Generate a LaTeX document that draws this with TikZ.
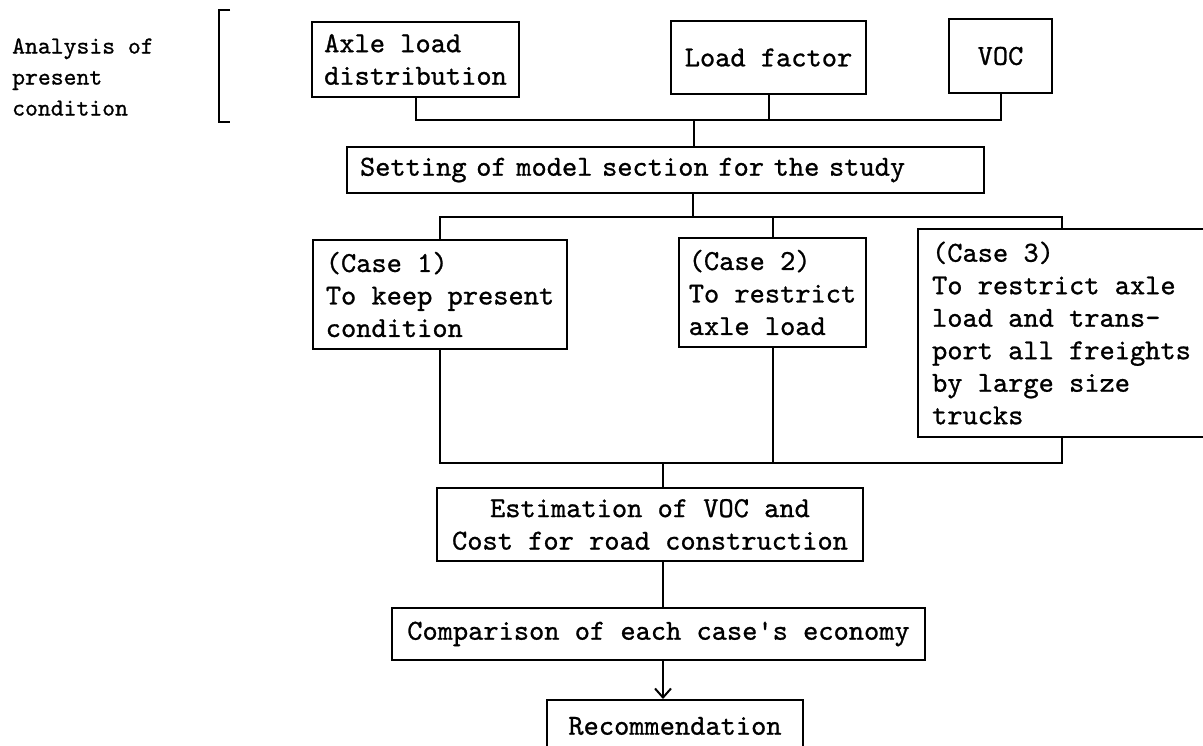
\documentclass[tikz,border=0pt]{standalone}
\usepackage{fontspec}
\newfontfamily\twfont{lmmono10-regular.otf}[FakeBold=0.9]
\usetikzlibrary{arrows.meta}
\tikzset{
  box/.style={draw, line width=2pt, inner sep=0pt, font=\fontsize{29}{32.5}\selectfont\twfont},
  conn/.style={line width=2pt},
  lbl/.style={inner sep=0pt, align=left, font=\fontsize{24.5}{31}\selectfont\twfont}
}
\begin{document}
\begin{tikzpicture}[x=1pt,y=-1pt]
\clip (0,0) rectangle (1203,745);
% left label and bracket
\node[lbl, anchor=west] (an) at (12,77) {Analysis of\\present\\condition};
\draw[conn] (230,10) -- (219,10) -- (219,122) -- (230,122);
% top boxes
\node[box, minimum width=207pt, minimum height=75pt, align=left] (A) at (415.5,59.5) {Axle load\\distribution};
\node[box, minimum width=195pt, minimum height=73pt] (LF) at (768.5,57.5) {Load factor};
\node[box, minimum width=103pt, minimum height=74pt] (V) at (1000.5,56) {VOC};
\node[box, minimum width=637pt, minimum height=46pt, text width=611pt, align=left] (S) at (665.5,170) {Setting of model section for the study};
% cases
\node[box, minimum width=254pt, minimum height=109pt, align=left] (C1) at (440,294.5) {(Case 1)\\To keep present\\condition};
\node[box, minimum width=187pt, minimum height=109pt, align=left] (C2) at (772.5,292.5) {(Case 2)\\To restrict\\axle load};
\node[box, minimum width=287pt, minimum height=208pt, align=left] (C3) at (1061.5,333) {(Case 3)\\To restrict axle\\load and trans-\\port all freights\\by large size\\trucks};
% lower boxes
\node[box, minimum width=426pt, minimum height=73pt, align=center] (E) at (650,524.5) {Estimation of VOC and\\Cost for road construction};
\node[box, minimum width=533pt, minimum height=52pt] (Cmp) at (658.5,634) {Comparison of each case's economy};
\node[box, minimum width=256pt, minimum height=52pt] (R) at (675,726) {Recommendation};
% junctions
\coordinate (j1) at (694,120);
\coordinate (j2) at (693,217);
\coordinate (j3) at (663,463);
% connectors
\draw[conn] (A.south) -- (A.south |- j1) -- (V.south |- j1) -- (V.south);
\draw[conn] (LF.south) -- (LF.south |- j1);
\draw[conn] (j1) -- (j1 |- S.north);
\draw[conn] (S.south -| j2) -- (j2);
\draw[conn] (C1.north) -- (C1.north |- j2) -- (C3.north |- j2) -- (C3.north);
\draw[conn] (C2.north) -- (C2.north |- j2);
\draw[conn] (C1.south) -- (C1.south |- j3) -- (C3.south |- j3) -- (C3.south);
\draw[conn] (C2.south) -- (C2.south |- j3);
\draw[conn] (j3) -- (j3 |- E.north);
\draw[conn] (E.south -| j3) -- (Cmp.north -| j3);
\draw[conn, -{Straight Barb[length=9pt, width=16pt]}] (Cmp.south -| j3) -- (R.north -| j3);
\end{tikzpicture}
\end{document}
